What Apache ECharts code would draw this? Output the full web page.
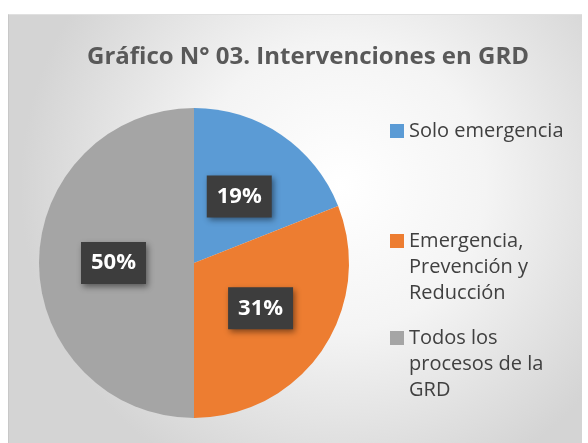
<!DOCTYPE html>
<html>
<head>
<meta charset="utf-8">
<script src="https://cdn.jsdelivr.net/npm/echarts@6/dist/echarts.min.js"></script>
<style>
  html, body { margin: 0; padding: 0; background: #ffffff; }
  #chart { position: absolute; left: 8px; top: 14px; width: 574px; height: 429px;
           border-left: 1px solid #c8c8c8; border-top: 1px solid #e0e0e0; box-sizing: border-box; }
</style>
</head>
<body>
<div id="chart"></div>
<script>
const titleText = "Gráfico N° 03. Intervenciones en GRD";
const categories = ["Solo emergencia", "Emergencia,\nPrevención y\nReducción", "Todos los\nprocesos de la\nGRD"];
const values = [19, 31, 50];
const colors = ["#5B9BD5", "#ED7D31", "#A5A5A5"];

const font = "'Open Sans', 'DejaVu Sans', sans-serif";
const chart = echarts.init(document.getElementById("chart"), null, { renderer: "canvas" });

const lineH = 26;
const iconCenters = [116, 226, 323];

// one legend per item; blank lines on top keep the icon on the first text line
const legends = categories.map(function (name, i) {
  const lines = name.split("\n").length;
  const blocks = 2 * lines - 1;
  return {
    left: 381,
    top: iconCenters[i] - (blocks * lineH) / 2,
    padding: 0,
    icon: "rect",
    itemWidth: 14,
    itemHeight: 14,
    selectedMode: false,
    data: [name],
    formatter: function (n) { return "\n".repeat(lines - 1) + n; },
    textStyle: {
      fontFamily: font,
      fontSize: 20,
      color: "#404040",
      lineHeight: lineH
    }
  };
});

chart.setOption({
  backgroundColor: {
    type: "radial",
    x: 0.58, y: 0.4, r: 0.75,
    colorStops: [
      { offset: 0, color: "#ffffff" },
      { offset: 0.45, color: "#f4f4f4" },
      { offset: 1, color: "#d4d4d4" }
    ]
  },
  color: colors,
  title: {
    text: titleText,
    left: 73,
    top: 25,
    textStyle: { fontFamily: font, fontSize: 24, fontWeight: "bold", color: "#595959" }
  },
  legend: legends,
  series: [{
    type: "pie",
    center: [185, 248],
    radius: [0, 155],
    startAngle: 90,
    clockwise: true,
    silent: true,
    label: {
      position: "inside",
      formatter: "{c}%",
      fontFamily: font,
      fontSize: 22,
      fontWeight: "bold",
      color: "#ffffff",
      backgroundColor: "#3d3d3d",
      padding: [10, 10, 10, 10],
      shadowColor: "rgba(0,0,0,0.45)",
      shadowBlur: 6,
      shadowOffsetX: 2,
      shadowOffsetY: 3
    },
    labelLine: { show: false },
    itemStyle: { borderWidth: 0 },
    data: categories.map(function (n, i) { return { name: n, value: values[i] }; })
  }]
});
</script>
</body>
</html>
